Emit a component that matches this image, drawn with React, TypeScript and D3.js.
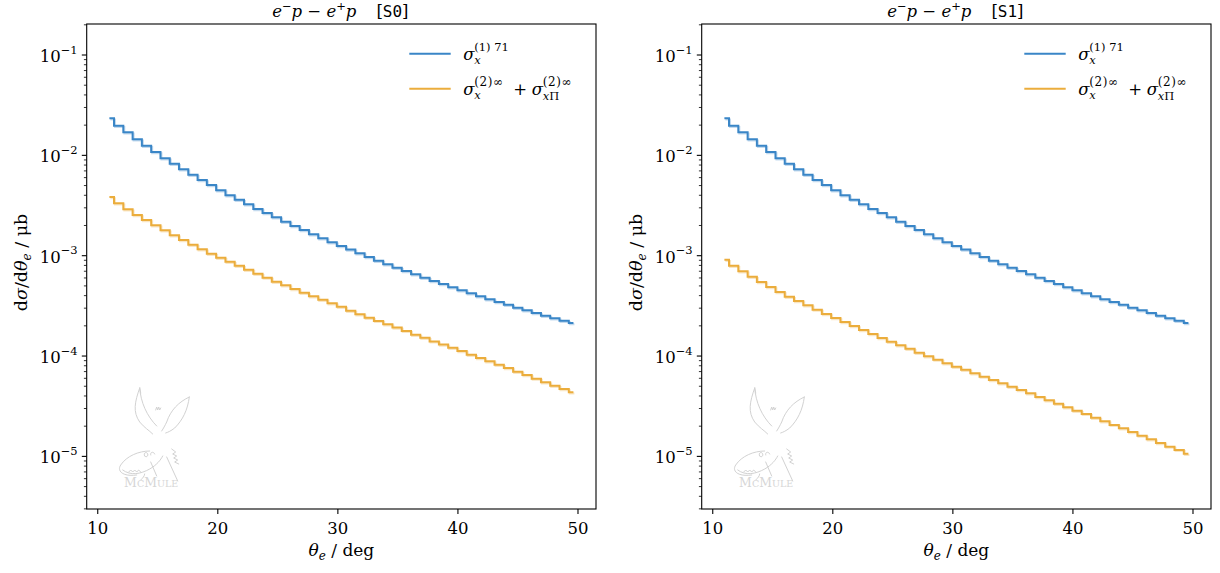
import React from "react";
import * as d3 from "d3";

// ---- data ----
const theta = [10.97, 11.74, 12.52, 13.29, 14.06, 14.84, 15.61, 16.38, 17.15, 17.93, 18.70, 19.47, 20.25, 21.02, 21.79, 22.57, 23.34, 24.11, 24.88, 25.66, 26.43, 27.20, 27.98, 28.75, 29.52, 30.30, 31.07, 31.84, 32.61, 33.39, 34.16, 34.93, 35.71, 36.48, 37.25, 38.03, 38.80, 39.57, 40.34, 41.12, 41.89, 42.66, 43.44, 44.21, 44.98, 45.76, 46.53, 47.30, 48.07, 48.85, 49.62];

const sigma1S0 = [2.339e-2, 1.975e-2, 1.697e-2, 1.445e-2, 1.248e-2, 1.080e-2, 9.346e-3, 8.254e-3, 7.261e-3, 6.417e-3, 5.682e-3, 5.065e-3, 4.484e-3, 3.997e-3, 3.614e-3, 3.252e-3, 2.920e-3, 2.664e-3, 2.413e-3, 2.182e-3, 1.977e-3, 1.803e-3, 1.634e-3, 1.491e-3, 1.360e-3, 1.249e-3, 1.153e-3, 1.056e-3, 9.705e-4, 8.916e-4, 8.209e-4, 7.592e-4, 7.04e-4, 6.526e-4, 6.035e-4, 5.595e-4, 5.224e-4, 4.843e-4, 4.520e-4, 4.219e-4, 3.938e-4, 3.676e-4, 3.455e-4, 3.247e-4, 3.031e-4, 2.856e-4, 2.685e-4, 2.524e-4, 2.377e-4, 2.250e-4, 2.135e-4];

const sigma2S0 = [3.845e-3, 3.328e-3, 2.900e-3, 2.544e-3, 2.269e-3, 2.009e-3, 1.791e-3, 1.597e-3, 1.434e-3, 1.287e-3, 1.158e-3, 1.047e-3, 9.55e-4, 8.71e-4, 7.95e-4, 7.25e-4, 6.61e-4, 6.04e-4, 5.50e-4, 5.07e-4, 4.66e-4, 4.28e-4, 3.94e-4, 3.64e-4, 3.35e-4, 3.10e-4, 2.83e-4, 2.61e-4, 2.41e-4, 2.24e-4, 2.07e-4, 1.92e-4, 1.78e-4, 1.63e-4, 1.52e-4, 1.40e-4, 1.30e-4, 1.21e-4, 1.12e-4, 1.03e-4, 9.56e-5, 8.87e-5, 8.20e-5, 7.60e-5, 6.98e-5, 6.47e-5, 5.95e-5, 5.47e-5, 5.06e-5, 4.69e-5, 4.35e-5];

const sigma1S1 = [2.339e-2, 1.975e-2, 1.697e-2, 1.445e-2, 1.248e-2, 1.080e-2, 9.346e-3, 8.254e-3, 7.261e-3, 6.417e-3, 5.682e-3, 5.065e-3, 4.484e-3, 3.997e-3, 3.614e-3, 3.252e-3, 2.920e-3, 2.664e-3, 2.413e-3, 2.182e-3, 1.977e-3, 1.803e-3, 1.634e-3, 1.491e-3, 1.360e-3, 1.249e-3, 1.153e-3, 1.056e-3, 9.705e-4, 8.916e-4, 8.209e-4, 7.592e-4, 7.04e-4, 6.526e-4, 6.035e-4, 5.595e-4, 5.224e-4, 4.843e-4, 4.520e-4, 4.219e-4, 3.938e-4, 3.676e-4, 3.455e-4, 3.247e-4, 3.031e-4, 2.856e-4, 2.685e-4, 2.524e-4, 2.377e-4, 2.250e-4, 2.135e-4];

const sigma2S1 = [9.12e-4, 7.95e-4, 6.99e-4, 6.17e-4, 5.47e-4, 4.88e-4, 4.35e-4, 3.90e-4, 3.54e-4, 3.20e-4, 2.90e-4, 2.62e-4, 2.39e-4, 2.18e-4, 1.99e-4, 1.82e-4, 1.66e-4, 1.51e-4, 1.39e-4, 1.28e-4, 1.18e-4, 1.08e-4, 9.94e-5, 9.20e-5, 8.47e-5, 7.83e-5, 7.31e-5, 6.73e-5, 6.23e-5, 5.77e-5, 5.35e-5, 4.95e-5, 4.59e-5, 4.25e-5, 3.91e-5, 3.62e-5, 3.35e-5, 3.09e-5, 2.85e-5, 2.65e-5, 2.43e-5, 2.24e-5, 2.06e-5, 1.91e-5, 1.75e-5, 1.61e-5, 1.48e-5, 1.36e-5, 1.25e-5, 1.16e-5, 1.06e-5];

const xTicks = [10, 20, 30, 40, 50];
const yTickExps = [-1, -2, -3, -4, -5];
const panelTags = ["S0", "S1"];

// ---- style ----
const W = 1220, H = 573;
const BLUE = "#3a86c7";
const ORANGE = "#ebad3c";
const SERIF = "'DejaVu Serif', 'Liberation Serif', serif";
const MONO = "'DejaVu Sans Mono', 'Liberation Mono', monospace";
const AX_W = 509.3, AX_H = 485, AX_TOP = 24;
const PANEL_LEFT = [86.7, 701.7];

const xDomain: [number, number] = [9.08, 51.5];
const yDomain: [number, number] = [2.99e-6, 0.2037];

function Logo() {
  const c = "#d2d2d2";
  return (
    <g stroke={c} fill="none" strokeWidth={1} strokeLinecap="round">
      <path d="M53,364 C48,378 46,388 53,398 C58,404 62,406 66,410" />
      <path d="M53,364 C54,378 60,392 70,402" />
      <path d="M53,364 L54,369" />
      <path d="M102.6,373 C92,378 84,386 80,398 C78,402 77,404 75,407" />
      <path d="M102.6,373 C101,386 96,396 88,404 C84,407 82,408 79,409" />
      <path d="M69,386 l1,-3 l1,3 l1,-3 l1,3 l1,-2" />
      <path d="M63,427 C52,427 40,432 34,441 C30,447 36,453 50,451" />
      <path d="M36,446 C44,452 54,450 63,445 C70,441 74,436 76,432" />
      <path d="M42,448 l2,-2 l2,2 l2,-2 l2,2 l2,-2 l2,2" />
      <path d="M58,450 C58,452 56,454 54,456" />
      <path d="M64,438 L70,452" />
      <path d="M58,432 c-2,-3 2,-5 3,-2 c1,2 -2,4 -3,2" />
      <path d="M64,431 c-1,-3 3,-4 4,-1" />
      <path d="M85,425 l4,3 l-3,2 l4,2 l-3,2 l4,2 l-3,2 l4,2" />
      <path d="M80,433 L91,457" />
    </g>
  );
}

function Panel({ left, tag, s1, s2 }: { left: number; tag: string; s1: number[]; s2: number[] }) {
  const x = d3.scaleLinear().domain(xDomain).range([0, AX_W]);
  const y = d3.scaleLog().domain(yDomain).range([AX_H, 0]);
  const line = d3
    .line<[number, number]>()
    .x((d) => x(d[0]))
    .y((d) => y(d[1]))
    .curve(d3.curveStep);
  const d1 = line(theta.map((t, i) => [t, s1[i]] as [number, number])) || "";
  const d2 = line(theta.map((t, i) => [t, s2[i]] as [number, number])) || "";

  const minor: number[] = [];
  for (let e = -6; e <= -1; e++) {
    for (let m = 2; m <= 9; m++) {
      const v = m * Math.pow(10, e);
      if (v >= yDomain[0] && v <= yDomain[1]) minor.push(v);
    }
  }
  const cx = AX_W / 2;

  return (
    <g transform={`translate(${left},${AX_TOP})`}>
      {/* title */}
      <text x={cx - 1} y={-7} textAnchor="middle" fontFamily={SERIF} fontSize={16.5} fill="#000">
        <tspan fontStyle="italic">e</tspan>
        <tspan fontSize={11.5} dy={-7}>−</tspan>
        <tspan fontStyle="italic" dy={7}>p</tspan>
        <tspan> − </tspan>
        <tspan fontStyle="italic">e</tspan>
        <tspan fontSize={11.5} dy={-7}>+</tspan>
        <tspan fontStyle="italic" dy={7}>p</tspan>
        <tspan dx={20}>[</tspan>
        <tspan fontFamily={MONO} fontSize={16}>{tag}</tspan>
        <tspan>]</tspan>
      </text>

      <Logo />
      <text x={64.5} y={463} textAnchor="middle" fontFamily={SERIF} fill="#d6d6d6" fontSize={12.5}>
        M<tspan fontSize={9.5}>C</tspan>M<tspan fontSize={9.5}>ULE</tspan>
      </text>

      {/* series */}
      <path d={d1} fill="none" stroke={BLUE} strokeOpacity={0.3} strokeWidth={2} transform="translate(1,1.2)" />
      <path d={d2} fill="none" stroke={ORANGE} strokeOpacity={0.3} strokeWidth={2} transform="translate(1,1.2)" />
      <path d={d1} fill="none" stroke={BLUE} strokeWidth={2} />
      <path d={d2} fill="none" stroke={ORANGE} strokeWidth={2} />

      {/* spines */}
      <rect x={0} y={0} width={AX_W} height={AX_H} fill="none" stroke="#000" strokeWidth={1.1} />

      {/* x ticks */}
      {xTicks.map((t) => (
        <g key={t} transform={`translate(${x(t)},${AX_H})`}>
          <line y1={0} y2={4.9} stroke="#000" strokeWidth={1.1} />
          <text y={25} textAnchor="middle" fontFamily={SERIF} fontSize={16.5} fill="#000">
            {t}
          </text>
        </g>
      ))}
      {/* y minor */}
      {minor.map((v, i) => (
        <line key={i} x1={-2.8} x2={0} y1={y(v)} y2={y(v)} stroke="#000" strokeWidth={0.8} />
      ))}
      {/* y major */}
      {yTickExps.map((e) => (
        <g key={e} transform={`translate(0,${y(Math.pow(10, e))})`}>
          <line x1={-4.9} x2={0} stroke="#000" strokeWidth={1.1} />
          <text x={-9} y={7} textAnchor="end" fontFamily={SERIF} fontSize={16.5} fill="#000">
            10<tspan fontSize={11.5} dy={-8.5}>−{Math.abs(e)}</tspan>
          </text>
        </g>
      ))}

      {/* axis labels */}
      <text x={cx} y={532} textAnchor="middle" fontFamily={SERIF} fontSize={17} fill="#000">
        <tspan fontStyle="italic">θ</tspan>
        <tspan fontStyle="italic" fontSize={12} dy={4}>e</tspan>
        <tspan dy={-4}> / deg</tspan>
      </text>
      <text transform={`translate(-60,${AX_H / 2 - 4}) rotate(-90)`} textAnchor="middle" fontFamily={SERIF} fontSize={17.5} fill="#000">
        <tspan>d</tspan>
        <tspan fontStyle="italic">σ</tspan>
        <tspan>/d</tspan>
        <tspan fontStyle="italic">θ</tspan>
        <tspan fontStyle="italic" fontSize={12} dy={4}>e</tspan>
        <tspan dy={-4}> / μb</tspan>
      </text>

      {/* legend */}
      <g transform="translate(322.6,0)">
        <line x1={0} x2={41.4} y1={29.7} y2={29.7} stroke={BLUE} strokeWidth={2} />
        <line x1={0} x2={41.4} y1={64.7} y2={64.7} stroke={ORANGE} strokeWidth={2} />
        <g fontFamily={SERIF} fill="#000">
          <text x={54} y={35.5} fontSize={16.5} fontStyle="italic">σ</text>
          <text x={65} y={39.5} fontSize={11.5} fontStyle="italic">x</text>
          <text x={65} y={26.5} fontSize={11.5}>(1) 71</text>

          <text x={54} y={70.5} fontSize={16.5} fontStyle="italic">σ</text>
          <text x={65} y={74.5} fontSize={11.5} fontStyle="italic">x</text>
          <text x={65} y={61.5} fontSize={12} letterSpacing={0.6}>(2)∞</text>
          <text x={104} y={70.5} fontSize={16.5}>+</text>
          <text x={122.5} y={70.5} fontSize={16.5} fontStyle="italic">σ</text>
          <text x={133.5} y={76} fontSize={11.5}><tspan fontStyle="italic">x</tspan>Π</text>
          <text x={133.5} y={61.5} fontSize={12} letterSpacing={0.6}>(2)∞</text>
        </g>
      </g>
    </g>
  );
}

export default function App() {
  return (
    <svg
      width={W}
      height={H}
      viewBox={`0 0 ${W} ${H}`}
      style={{ position: "absolute", left: 0, top: 0, background: "#fff" }}
    >
      <rect width={W} height={H} fill="#fff" />
      <Panel left={PANEL_LEFT[0]} tag={panelTags[0]} s1={sigma1S0} s2={sigma2S0} />
      <Panel left={PANEL_LEFT[1]} tag={panelTags[1]} s1={sigma1S1} s2={sigma2S1} />
    </svg>
  );
}
